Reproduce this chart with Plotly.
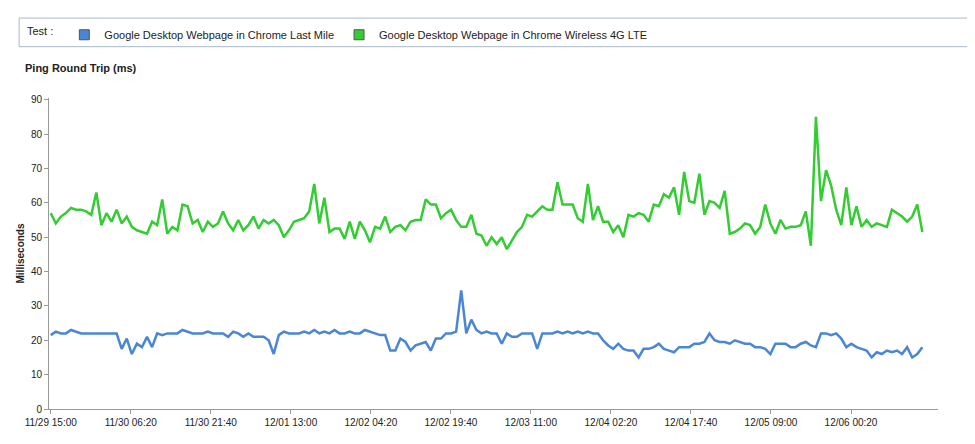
import numpy as np
import pandas as pd
import plotly.graph_objects as go

last_mile = [21.5, 22.5, 22, 22, 23, 22.5, 22, 22, 22, 22, 22, 22, 22, 22, 17.5, 20.5, 16, 19, 18, 21,
             18, 22, 21.5, 22, 22, 22, 23, 22.5, 22, 22, 22, 22.5, 22, 22, 22, 21, 22.5, 22, 21, 22,
             21, 21, 21, 20, 16, 21.5, 22.5, 22, 22, 22, 22.5, 22, 23, 22, 22.5, 22, 23, 22, 22, 22.5,
             22, 22, 23, 22.5, 22, 21.5, 21.5, 17, 17, 20.5, 19.5, 17, 18.5, 19, 19.5, 17, 20.5, 20.5, 22, 22,
             22.5, 34.5, 22, 26, 23, 22, 22.5, 22, 22, 19, 22, 21, 21, 22, 22, 22, 17.5, 22, 22, 22,
             22.5, 22, 22.5, 22, 22.5, 22, 22.5, 22, 22, 20, 18.5, 17.5, 19, 17.5, 17, 17, 15, 17.5, 17.5, 18,
             19, 17.5, 17, 16.5, 18, 18, 18, 19, 19, 19.5, 22, 20, 19.5, 19.5, 19, 20, 19.5, 19, 19, 18,
             18, 17.5, 16, 19, 19, 19, 18, 18, 19, 19.5, 18.5, 18, 22, 22, 21.5, 22, 20.5, 18, 19, 18,
             17.5, 17, 15, 16.5, 16, 17, 16.5, 17, 16, 18, 15, 16, 18]
lte = [57, 54, 56, 57, 58.5, 58, 58, 57.5, 56.5, 63, 53.5, 57, 54.5, 58, 54, 56, 53, 52, 51.5, 51,
       54.5, 53.5, 61, 51, 53, 52, 59.5, 59, 54, 55, 51.5, 54.5, 53, 54, 57.5, 54, 52, 55, 52, 53.5,
       56, 52.5, 55, 54, 55, 53.5, 50, 52, 54.5, 55, 55.5, 57.5, 65.5, 54, 61.5, 51.5, 52.5, 52.5, 49.5, 54.5,
       49.5, 54.5, 52, 48.5, 53, 52.5, 56, 51.5, 53, 53.5, 52, 54.5, 55, 55, 61, 59.5, 59.5, 55.5, 57, 58,
       55, 53, 53, 56.5, 51, 50.5, 47.5, 50, 48, 50, 46.5, 49, 51.5, 53, 56.5, 56, 57.5, 59, 58, 58,
       66, 59.5, 59.5, 59.5, 55.5, 54.5, 65.5, 55, 59, 54.5, 54.5, 51.5, 53.5, 50, 56.5, 56, 57, 56.5, 54.5, 59.5,
       59, 62.5, 61.5, 64.5, 56.5, 69, 60.5, 60, 68.5, 56.5, 60.5, 60, 58.5, 63.5, 51, 51.5, 52.5, 54, 53.5, 51,
       53, 59.5, 54, 51, 55, 52.5, 53, 53, 53.5, 57.5, 47.5, 85, 60.5, 69.5, 65, 58, 53.5, 64.5, 53.5, 59,
       53, 55, 53, 54, 53.5, 53, 58, 57, 56, 54.5, 56, 59.5, 51.5]

series_names = ["Google Desktop Webpage in Chrome Last Mile",
                "Google Desktop Webpage in Chrome Wireless 4G LTE"]
colors = ["#4a86d4", "#33cc33"]

start = pd.Timestamp("2013-11-29 15:00")
end = pd.Timestamp("2013-12-06 14:00")
t_blue = pd.date_range(start, end, periods=len(last_mile))
t_green = pd.date_range(start, end, periods=len(lte))

tick_vals = pd.date_range(start, periods=11, freq="920min")
tick_text = [t.strftime("%m/%d %H:%M") for t in tick_vals]

fig = go.Figure()
for t, y, name, c in [(t_blue, last_mile, series_names[0], colors[0]),
                      (t_green, lte, series_names[1], colors[1])]:
    fig.add_trace(go.Scatter(x=t, y=y, mode="lines", name=name, showlegend=False,
                             line=dict(color=c, width=2.5)))
    # square swatch for the legend
    fig.add_trace(go.Scatter(x=[None], y=[None], mode="markers", name=name,
                             marker=dict(symbol="square", size=10, color=c,
                                         line=dict(color="#555", width=1))))

fig.update_layout(
    width=975, height=444,
    paper_bgcolor="white", plot_bgcolor="white",
    font=dict(family="Arial, Liberation Sans", size=10, color="#222"),
    margin=dict(l=38, r=45, t=86, b=43),
    legend=dict(orientation="h", x=-0.027, y=1.25, xanchor="left", yanchor="top",
                font=dict(size=11), title=dict(text="Test : ", font=dict(size=11)),
                bgcolor="rgba(0,0,0,0)", itemwidth=30),
    shapes=[dict(type="rect", xref="paper", yref="paper", x0=-0.0336, x1=1.039,
                 y0=1.165, y1=1.257, line=dict(color="#a9b8c8", width=1))],
    annotations=[dict(text="<b>Ping Round Trip (ms)</b>", x=-0.029, y=1.098,
                      xref="paper", yref="paper", xanchor="left", yanchor="middle",
                      showarrow=False, font=dict(size=11))],
)
fig.update_xaxes(range=[start - pd.Timedelta(minutes=20), end + pd.Timedelta(hours=3)],
                 tickvals=tick_vals, ticktext=tick_text, showgrid=False,
                 showline=True, linecolor="#999", ticks="outside", ticklen=4, tickcolor="#999")
fig.update_yaxes(range=[0, 90.5], dtick=10, showgrid=False, showline=True, linecolor="#999",
                 ticks="outside", ticklen=4, tickcolor="#999", zeroline=False,
                 title=dict(text="<b>Milliseconds</b>", standoff=4, font=dict(size=10)))

fig.write_html("out.html")
